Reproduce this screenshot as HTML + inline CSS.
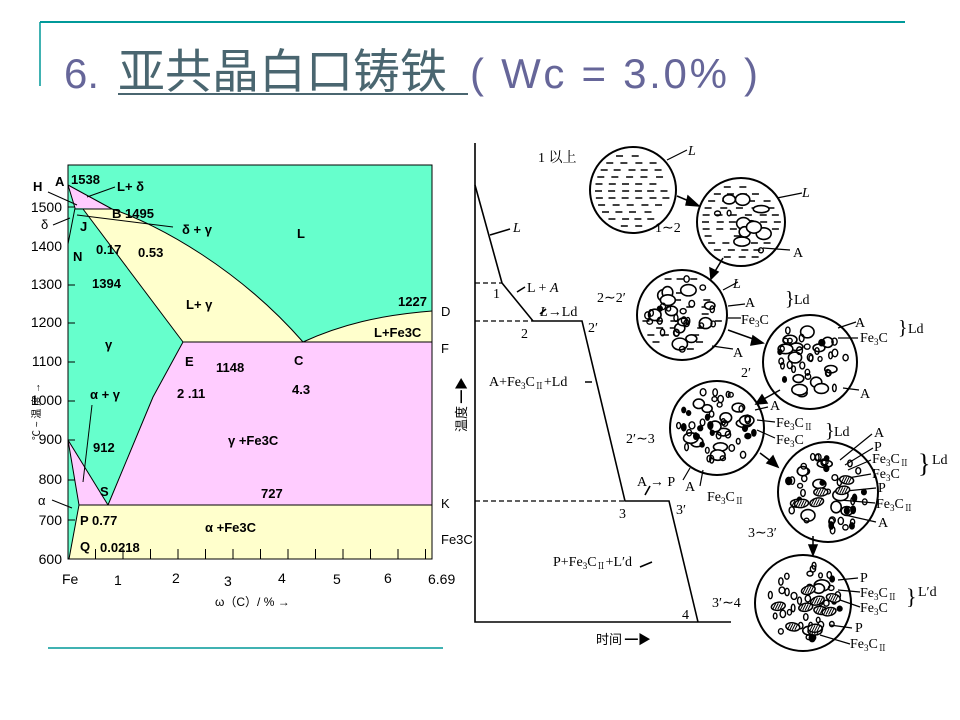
<!DOCTYPE html>
<html><head><meta charset="utf-8"><style>
html,body{margin:0;padding:0;background:#fff;}
svg{display:block;}
.pd{font-family:"Liberation Sans",sans-serif;font-weight:bold;font-size:13px;fill:#000;}
.rt{font-family:"Liberation Serif","Noto Serif CJK SC",serif;font-size:14px;fill:#000;}
</style></head><body>
<svg id="s" width="960" height="720" viewBox="0 0 960 720" xmlns="http://www.w3.org/2000/svg">
<rect width="960" height="720" fill="#fff"/>
<line x1="40" y1="22" x2="905" y2="22" stroke="#009999" stroke-width="2"/>
<line x1="40" y1="22" x2="40" y2="86" stroke="#009999" stroke-width="1.5"/>
<line x1="48" y1="648" x2="443" y2="648" stroke="#009999" stroke-width="1.5"/>
<text x="64" y="88" font-family="Liberation Sans,sans-serif" font-size="42" fill="#666699">6.</text>
<text x="118" y="88" font-family="Liberation Sans,'Noto Sans CJK SC',sans-serif" font-size="47" fill="#4a6670">亚共晶白口铸铁</text>
<line x1="118" y1="94" x2="468" y2="94" stroke="#4a6670" stroke-width="2"/>
<text x="470" y="88" font-family="Liberation Sans,sans-serif" font-size="42" fill="#666699" textLength="288" lengthAdjust="spacing">( Wc = 3.0% )</text>

<!-- phase diagram -->
<rect x="68" y="165" width="364" height="394" fill="#66ffcc" stroke="#000" stroke-width="1"/>
<path d="M68,185 L75,208 L112,209 Z" fill="#ffccff"/>
<path d="M83,209 L112,209 C160,225 240,270 303,342 L183,342 Z" fill="#ffffcc"/>
<path d="M183,342 L432,342 L432,505 L108,505 L153,397 Z" fill="#ffccff"/>
<path d="M303,342 C340,325 380,315 432,311 L432,342 Z" fill="#ffffcc"/>
<path d="M68,440 L108,505 L79,505 Q73,470 68,440 Z" fill="#ffccff"/>
<path d="M79,505 L432,505 L432,559 L69,559 Z" fill="#ffffcc"/>
<g stroke="#000" stroke-width="1" fill="none">
<rect x="68" y="165" width="364" height="394"/>
<path d="M68,185 L112,209 C160,225 240,270 303,342 C340,325 380,315 432,311"/>
<path d="M68,185 L75,208 L68,244"/>
<path d="M75,209 L112,209"/>
<path d="M83,209 L183,342"/>
<path d="M183,342 L432,342"/>
<path d="M183,342 L153,397 L108,505"/>
<path d="M68,440 L108,505"/>
<path d="M68,440 Q73,470 79,505 L69,559"/>
<path d="M79,505 L432,505"/>
<path d="M77,215 L173,227"/>
<path d="M87,197 L115,187"/>
<path d="M48,192 L77,205"/>
<path d="M53,225 L70,218"/>
<path d="M92,405 L83,482"/>
<path d="M52,500 L72,508"/>
<path d="M68,440 L75,440"/>
<path d="M68,520 L75,520"/>
<path d="M68,207 L75,207 M68,285 L75,285 M68,323 L75,323 M68,362 L75,362 M68,401 L75,401 M68,480 L75,480"/>
</g>
<g id="ticks" stroke="#000" stroke-width="1"></g>
<g class="pd">
<text x="71" y="184">1538</text><text x="55" y="186">A</text><text x="33" y="191">H</text>
<text x="117" y="191">L+ δ</text><text x="112" y="218">B 1495</text>
<text x="182" y="234">δ + γ</text><text x="297" y="238">L</text>
<text x="41" y="229" font-weight="normal">δ</text><text x="80" y="231">J</text>
<text x="73" y="261">N</text><text x="96" y="254">0.17</text><text x="138" y="257">0.53</text>
<text x="92" y="288">1394</text><text x="186" y="309">L+ γ</text>
<text x="398" y="306">1227</text><text x="374" y="337">L+Fe3C</text>
<text x="105" y="349">γ</text><text x="185" y="366">E</text><text x="216" y="372">1148</text>
<text x="294" y="365">C</text><text x="177" y="398">2 .11</text><text x="292" y="394">4.3</text>
<text x="90" y="399">α + γ</text><text x="93" y="452">912</text>
<text x="228" y="445">γ +Fe3C</text><text x="100" y="496">S</text><text x="261" y="498">727</text>
<text x="80" y="525">P 0.77</text><text x="205" y="532">α +Fe3C</text>
<text x="80" y="551">Q</text><text x="100" y="552">0.0218</text>
<g font-weight="normal">
<text x="441" y="316">D</text><text x="441" y="353">F</text><text x="441" y="508">K</text><text x="441" y="544">Fe3C</text>
</g>
<g text-anchor="end" font-weight="normal" font-size="14">
<text x="62" y="212">1500</text><text x="62" y="251">1400</text><text x="62" y="289">1300</text>
<text x="62" y="327">1200</text><text x="62" y="366">1100</text><text x="62" y="405">1000</text>
<text x="62" y="444">900</text><text x="62" y="484">800</text><text x="62" y="525">700</text><text x="62" y="564">600</text>
</g>
<text x="38" y="505" font-weight="normal">α</text>
<g font-weight="normal" font-size="14">
<text x="62" y="584">Fe</text><text x="114" y="585">1</text><text x="172" y="583">2</text><text x="224" y="586">3</text>
<text x="278" y="583">4</text><text x="333" y="584">5</text><text x="384" y="583">6</text><text x="428" y="584">6.69</text>
<text x="215" y="606" font-size="12">ω（C）/ % →</text>
</g>
<text transform="translate(40,440) rotate(-90)" font-weight="normal" font-size="10" font-family="Liberation Sans,'Noto Sans CJK SC',sans-serif">℃ ~ 温 度 →</text>
</g>

<!-- cooling curve -->
<g stroke="#000" stroke-width="1.6" fill="none">
<path d="M475,143 L475,622 L731,622"/>
<path d="M475,185 L502,283 L533,321 L582,321 L625,501 L669,501 L698,622"/>
<path d="M475,283 L502,283 M475,321 L533,321 M475,501 L625,501" stroke-dasharray="5,3" stroke-width="1.2"/>
<path d="M490,235 L510,229 M517,292 L525,287 M540,314 L546,309 M585,382 L592,382 M645,495 L650,486 M640,567 L652,562"/>
</g>
<g class="rt">
<text x="513" y="232" font-style="italic">L</text>
<text x="493" y="298">1</text><text x="527" y="292">L + <tspan font-style="italic">A</tspan></text>
<text x="521" y="338">2</text><text x="540" y="316"><tspan font-style="italic">L</tspan>→Ld</text>
<text x="588" y="332">2′</text>
<text x="489" y="386">A+Fe<tspan font-size="9" dy="3">3</tspan><tspan dy="-3">C</tspan><tspan font-size="9" dy="3">Ⅱ</tspan><tspan dy="-3">+Ld</tspan></text>
<text x="619" y="518">3</text><text x="637" y="486">A → P</text><text x="676" y="514">3′</text>
<text x="553" y="566">P+Fe<tspan font-size="9" dy="3">3</tspan><tspan dy="-3">C</tspan><tspan font-size="9" dy="3">Ⅱ</tspan><tspan dy="-3">+L′d</tspan></text>
<text x="682" y="619">4</text>
<text x="596" y="644" font-size="13" font-family="'Noto Sans CJK SC',sans-serif">时间 ━▶</text>
<text transform="translate(466,432) rotate(-90)" font-size="13" font-family="'Noto Sans CJK SC',sans-serif">温度 ━▶</text>

<text x="538" y="162" font-family="'Liberation Serif','Noto Serif CJK SC',serif">1 以上</text>
<text x="655" y="232">1∼2</text><text x="597" y="302">2∼2′</text>
<text x="741" y="377">2′</text><text x="626" y="443">2′∼3</text>
<text x="748" y="537">3∼3′</text><text x="712" y="607">3′∼4</text>

<text x="688" y="155" font-style="italic">L</text>
<text x="802" y="197" font-style="italic">L</text><text x="793" y="257">A</text>
<text x="733" y="288" font-style="italic">L</text><text x="745" y="307">A</text>
<text x="741" y="324">Fe<tspan font-size="9" dy="3">3</tspan><tspan dy="-3">C</tspan></text>
<text x="733" y="357">A</text>
<text x="785" y="305" font-size="20">}</text><text x="794" y="304">Ld</text>
<text x="855" y="327">A</text>
<text x="860" y="342">Fe<tspan font-size="9" dy="3">3</tspan><tspan dy="-3">C</tspan></text>
<text x="898" y="334" font-size="20">}</text><text x="908" y="333">Ld</text>
<text x="860" y="398">A</text>
<text x="770" y="410">A</text>
<text x="776" y="427">Fe<tspan font-size="9" dy="3">3</tspan><tspan dy="-3">C</tspan><tspan font-size="9" dy="3">Ⅱ</tspan></text>
<text x="776" y="444">Fe<tspan font-size="9" dy="3">3</tspan><tspan dy="-3">C</tspan></text>
<text x="825" y="437" font-size="20">}</text><text x="834" y="436">Ld</text>
<text x="685" y="491">A</text>
<text x="707" y="501">Fe<tspan font-size="9" dy="3">3</tspan><tspan dy="-3">C</tspan><tspan font-size="9" dy="3">Ⅱ</tspan></text>
<text x="874" y="437">A</text><text x="874" y="451">P</text>
<text x="872" y="463">Fe<tspan font-size="9" dy="3">3</tspan><tspan dy="-3">C</tspan><tspan font-size="9" dy="3">Ⅱ</tspan></text>
<text x="872" y="478">Fe<tspan font-size="9" dy="3">3</tspan><tspan dy="-3">C</tspan></text>
<text x="918" y="472" font-size="26">}</text><text x="932" y="464">Ld</text>
<text x="878" y="492">P</text>
<text x="876" y="508">Fe<tspan font-size="9" dy="3">3</tspan><tspan dy="-3">C</tspan><tspan font-size="9" dy="3">Ⅱ</tspan></text>
<text x="878" y="527">A</text>
<text x="860" y="582">P</text>
<text x="860" y="597">Fe<tspan font-size="9" dy="3">3</tspan><tspan dy="-3">C</tspan><tspan font-size="9" dy="3">Ⅱ</tspan></text>
<text x="860" y="612">Fe<tspan font-size="9" dy="3">3</tspan><tspan dy="-3">C</tspan></text>
<text x="906" y="604" font-size="22">}</text><text x="918" y="596">L′d</text>
<text x="855" y="632">P</text>
<text x="850" y="648">Fe<tspan font-size="9" dy="3">3</tspan><tspan dy="-3">C</tspan><tspan font-size="9" dy="3">Ⅱ</tspan></text>
</g>
<g stroke="#000" stroke-width="1.2" fill="none">
<path d="M667,160 L687,150 M777,198 L802,193 M763,248 L790,250 M723,290 L738,282 M728,306 L745,304 M728,318 L741,318 M712,346 L733,349"/>
<path d="M838,328 L856,322 M838,338 L858,338 M843,388 L859,390"/>
<path d="M755,410 L768,407 M757,420 L775,422 M757,430 L775,438 M690,468 L683,480 M703,470 L700,486"/>
<path d="M840,460 L872,434 M845,465 L873,448 M848,470 L871,460 M848,478 L871,474 M836,492 L876,488 M840,500 L875,503 M845,515 L876,522"/>
<path d="M838,580 L858,578 M838,590 L860,592 M840,600 L860,607 M830,625 L852,628 M820,635 L850,644"/>
</g>
<g id="circ" stroke="#000" fill="none"></g>
<g fill="#000" stroke="#000" stroke-width="1.5">
<path d="M677,196 L696,204"/><path d="M699,206 L688,196 L686,205 Z"/>
<path d="M723,258 L714,273"/><path d="M711,279 L710,268 L718,272 Z"/>
<path d="M728,330 L756,340"/><path d="M763,343 L753,336 L751,345 Z"/>
<path d="M780,390 L762,400"/><path d="M756,404 L762,395 L767,403 Z"/>
<path d="M760,453 L772,462"/><path d="M778,467 L767,463 L773,456 Z"/>
<path d="M813,536 L813,548"/><path d="M813,555 L809,545 L817,545 Z"/>
</g>
</svg>
<script>
(function(){
var NS="http://www.w3.org/2000/svg";
var t=document.getElementById("ticks");
for(var i=1;i<=13;i++){var x=68+i*27.5;if(x>=432)break;var l=document.createElementNS(NS,"line");l.setAttribute("x1",x);l.setAttribute("x2",x);l.setAttribute("y1",549);l.setAttribute("y2",559);t.appendChild(l);}
var g=document.getElementById("circ");
var seed=7;function r(){seed=(seed*16807)%2147483647;return seed/2147483647;}
function el(n,a){var e=document.createElementNS(NS,n);for(var k in a)e.setAttribute(k,a[k]);g.appendChild(e);return e;}
var C=[[633,190,43],[741,222,44],[682,315,45],[810,362,47],[717,428,47],[828,492,50],[803,603,48]];
var spec=[[1,0,0,0],[0.6,9,3,0],[0.25,12,22,0],[0,13,28,0],[0,12,40,0],[0,8,36,6],[0,3,40,10]];
C.forEach(function(c,i){
 el("circle",{cx:c[0],cy:c[1],r:c[2],"stroke-width":2});
 var s=spec[i],R=c[2]-5;
 if(s[0]>0){for(var y=-R+4;y<R;y+=7){var w=Math.sqrt(R*R-y*y);for(var x=-w;x<w-6;x+=12+r()*4){if(r()<s[0]+0.3){el("line",{x1:c[0]+x,y1:c[1]+y,x2:c[0]+x+7,y2:c[1]+y,"stroke-width":1.5});}}}}
 for(var k=0;k<s[1];k++){var a=r()*6.28,d=Math.sqrt(r())*(R-10);el("ellipse",{cx:c[0]+Math.cos(a)*d,cy:c[1]+Math.sin(a)*d,rx:5+r()*3,ry:3.5+r()*2.5,"stroke-width":1.6,fill:"#fff"});}
 for(var k=0;k<s[2];k++){var a=r()*6.28,d=Math.sqrt(r())*(R-3);el("ellipse",{cx:c[0]+Math.cos(a)*d,cy:c[1]+Math.sin(a)*d,rx:1.8+r()*1.2,ry:2.3+r()*1.5,"stroke-width":1.4,fill:r()<0.2?"#000":"none"});}
 for(var k=0;k<s[3];k++){var a=r()*6.28,d=Math.sqrt(r())*(R-12);var x0=c[0]+Math.cos(a)*d,y0=c[1]+Math.sin(a)*d;el("ellipse",{cx:x0,cy:y0,rx:7,ry:4,"stroke-width":1.5,fill:"#fff",transform:"rotate("+(-20+r()*40)+" "+x0+" "+y0+")"});for(var h=-4;h<=4;h+=2.5)el("line",{x1:x0+h-1.5,y1:y0+3,x2:x0+h+1.5,y2:y0-3,"stroke-width":1});}
});
})();
</script>
</body></html>
